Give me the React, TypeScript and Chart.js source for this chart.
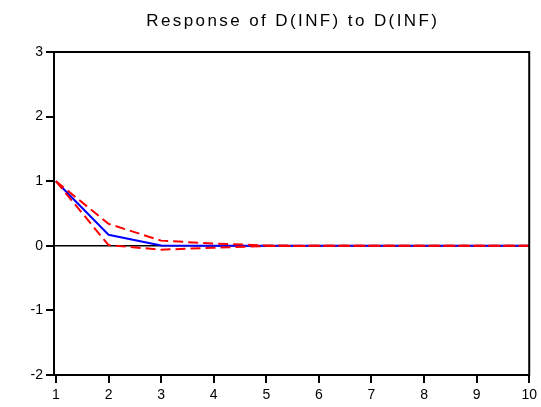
import React, { useEffect, useRef } from "react";
import { Chart, registerables } from "chart.js";

Chart.register(...registerables);

const periods = [1, 2, 3, 4, 5, 6, 7, 8, 9, 10];
const response = [1.0, 0.17, 0.005, 0.0, 0.0, 0.0, 0.0, 0.0, 0.0, 0.0];
const upperBand = [1.0, 0.34, 0.08, 0.035, 0.005, 0.0, 0.0, 0.0, 0.0, 0.0];
const lowerBand = [1.0, 0.01, -0.06, -0.03, -0.005, 0.0, 0.0, 0.0, 0.0, 0.0];
const yTicks = [-2, -1, 0, 1, 2, 3];
const titleText = "Response of D(INF) to D(INF)";

const FONT = "'Liberation Sans', Arial, sans-serif";

export default function App() {
  const ref = useRef<HTMLCanvasElement | null>(null);

  useEffect(() => {
    document.body.style.margin = "0";
    const canvas = ref.current;
    if (!canvas) return;

    const framePlugin = {
      id: "frame",
      beforeDatasetsDraw(chart: any) {
        const { ctx, chartArea, scales } = chart;
        const y0 = scales.y.getPixelForValue(0);
        ctx.save();
        ctx.strokeStyle = "#000";
        ctx.lineWidth = 1.5;
        ctx.beginPath();
        ctx.moveTo(chartArea.left, y0);
        ctx.lineTo(chartArea.right, y0);
        ctx.stroke();
        ctx.restore();
      },
      afterDraw(chart: any) {
        const { ctx, chartArea } = chart;
        ctx.save();
        ctx.strokeStyle = "#000";
        ctx.lineWidth = 2;
        ctx.strokeRect(chartArea.left, chartArea.top, chartArea.right - chartArea.left, chartArea.bottom - chartArea.top);
        ctx.fillStyle = "#000";
        ctx.font = `17px ${FONT}`;
        ctx.textAlign = "left";
        ctx.textBaseline = "alphabetic";
        (ctx as any).letterSpacing = "2.4px";
        const w = ctx.measureText(titleText).width - 2.4;
        const cx = (chartArea.left + chartArea.right) / 2;
        ctx.fillText(titleText, cx - w / 2, 26);
        ctx.restore();
      },
    };

    const chart = new Chart(canvas, {
      type: "line",
      data: {
        datasets: [
          {
            data: periods.map((p, i) => ({ x: p, y: upperBand[i] })),
            borderColor: "#ff0000",
            borderWidth: 2,
            borderDash: [10, 5],
            pointRadius: 0,
            fill: false,
            tension: 0,
            order: 1,
          },
          {
            data: periods.map((p, i) => ({ x: p, y: lowerBand[i] })),
            borderColor: "#ff0000",
            borderWidth: 2,
            borderDash: [10, 5],
            pointRadius: 0,
            fill: false,
            tension: 0,
            order: 1,
          },
          {
            data: periods.map((p, i) => ({ x: p, y: response[i] })),
            borderColor: "#0000ff",
            borderWidth: 2,
            pointRadius: 0,
            fill: false,
            tension: 0,
            order: 2,
          },
        ],
      },
      options: {
        responsive: false,
        animation: false,
        layout: { padding: { top: 52, right: 9, left: 0, bottom: 0 } },
        plugins: {
          legend: { display: false },
          tooltip: { enabled: false },
          title: { display: false },
        },
        scales: {
          x: {
            type: "linear",
            min: 0.963,
            max: 10,
            afterBuildTicks: (s: any) => {
              s.ticks = periods.map((v) => ({ value: v }));
            },
            afterFit: (s: any) => {
              s.height = 32;
            },
            grid: {
              display: true,
              drawOnChartArea: false,
              drawTicks: true,
              tickLength: 8,
              color: "#000",
              lineWidth: 2,
            },
            border: { display: true, color: "#000", width: 2 },
            ticks: {
              color: "#000",
              font: { family: FONT, size: 14 },
              padding: 4,
              maxRotation: 0,
              autoSkip: false,
            },
          },
          y: {
            type: "linear",
            min: -2,
            max: 3,
            afterBuildTicks: (s: any) => {
              s.ticks = yTicks.map((v) => ({ value: v }));
            },
            afterFit: (s: any) => {
              s.width = 54;
            },
            grid: {
              display: true,
              drawOnChartArea: false,
              drawTicks: true,
              tickLength: 8,
              color: "#000",
              lineWidth: 2,
            },
            border: { display: true, color: "#000", width: 2 },
            ticks: {
              color: "#000",
              font: { family: FONT, size: 14 },
              padding: 3,
              autoSkip: false,
            },
          },
        },
      },
      plugins: [framePlugin],
    } as any);

    return () => chart.destroy();
  }, []);

  return (
    <div style={{ width: 541, height: 407 }}>
      <canvas ref={ref} width={541} height={407} style={{ display: "block", width: 541, height: 407 }} />
    </div>
  );
}
